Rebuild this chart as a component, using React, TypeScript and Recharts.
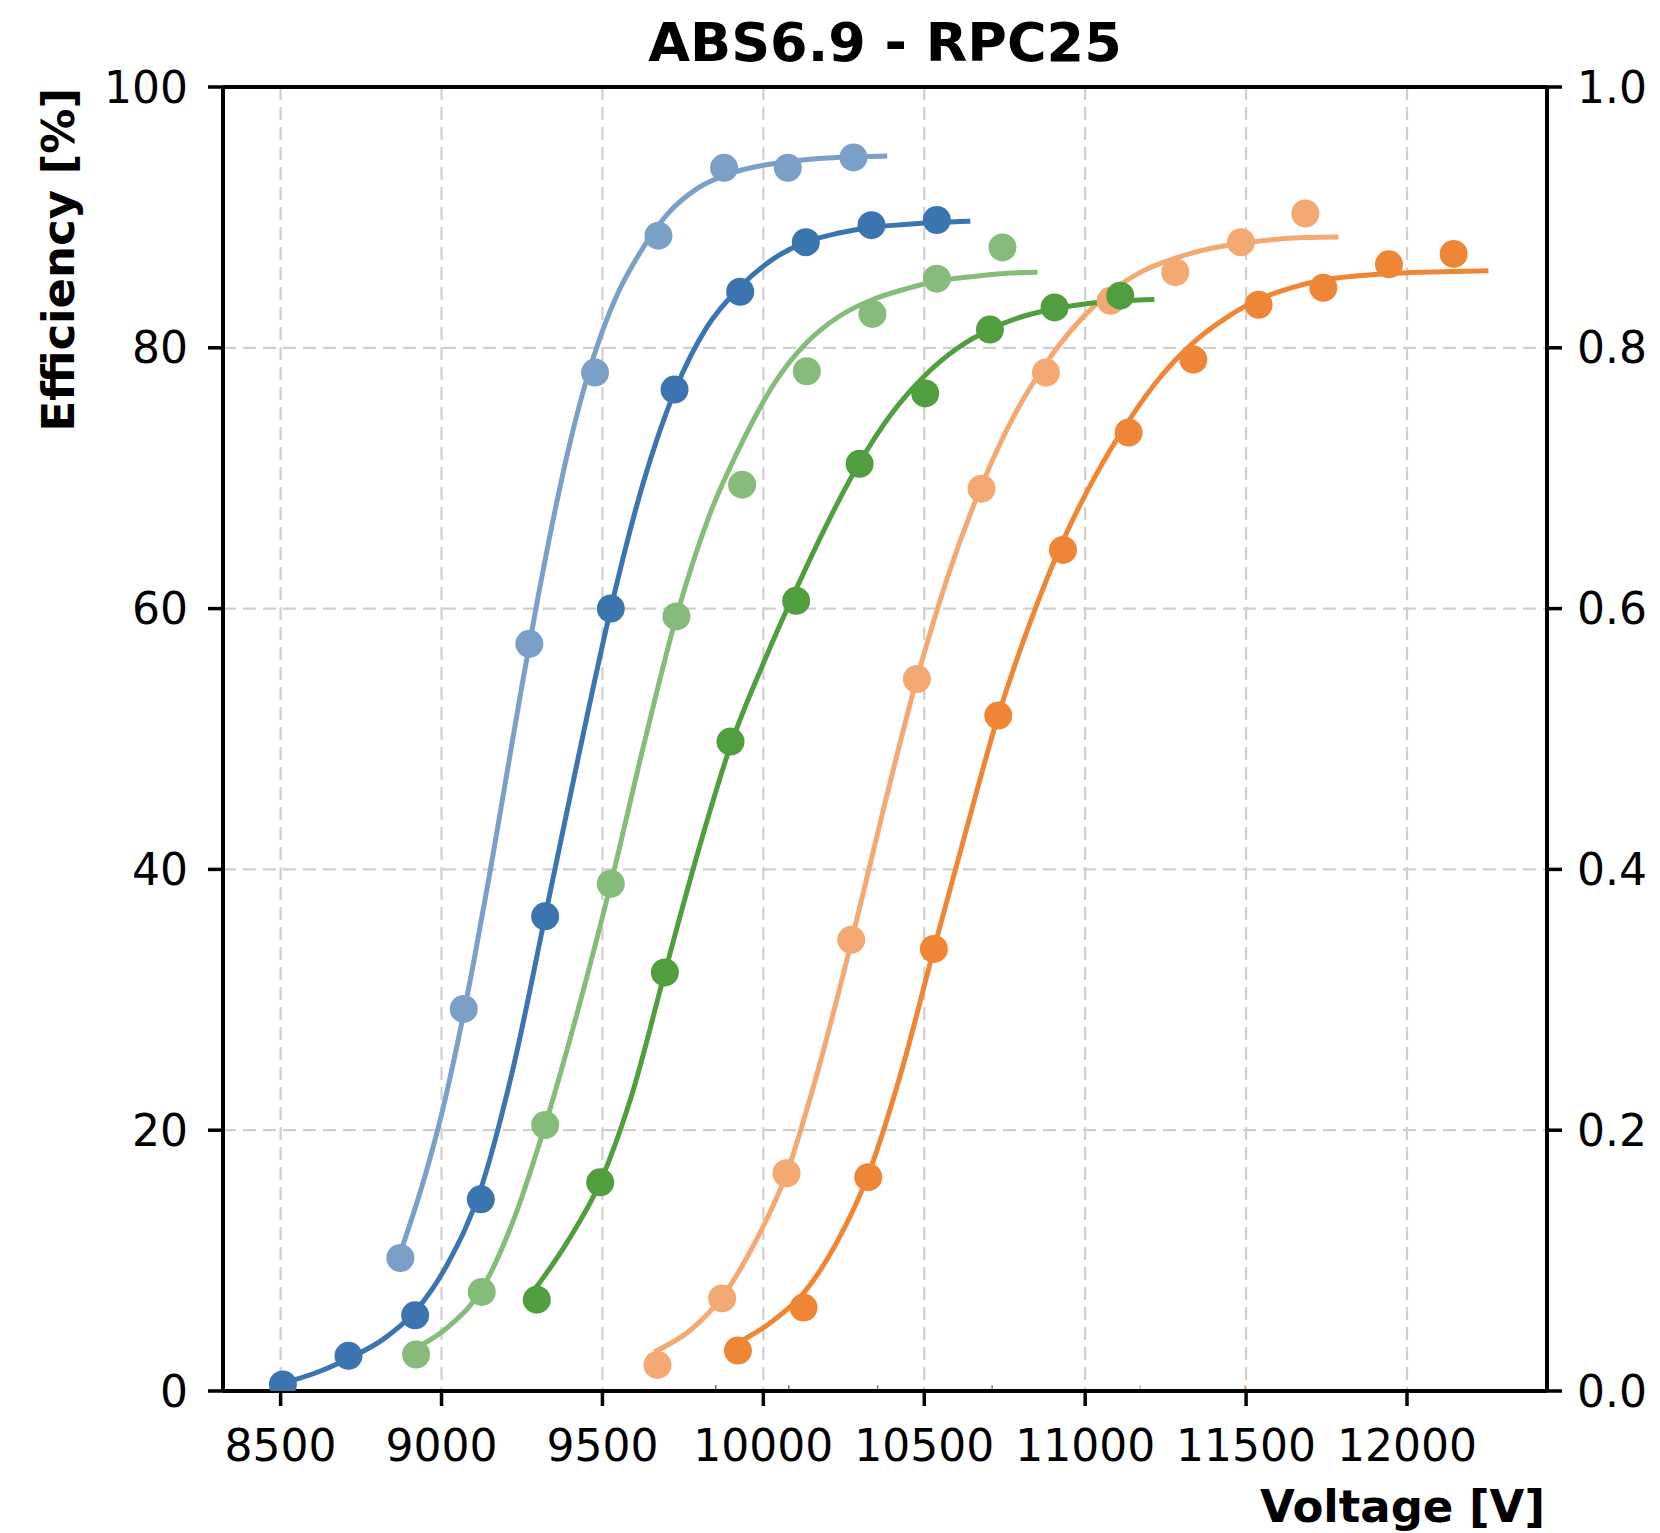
import React from "react";
import {
  ComposedChart,
  Line,
  Scatter,
  XAxis,
  YAxis,
  CartesianGrid,
  ReferenceLine,
} from "recharts";

// measured points (voltage [V], efficiency [%])
const lbVolt = [8872, 9069, 9273, 9477, 9674, 9878, 10076, 10280];
const lbEff = [10.2, 29.3, 57.3, 78.1, 88.6, 93.8, 93.8, 94.6];
const dbVolt = [8507, 8711, 8918, 9122, 9322, 9526, 9724, 9928, 10132, 10336, 10539];
const dbEff = [0.5, 2.7, 5.8, 14.7, 36.4, 60.0, 76.8, 84.3, 88.1, 89.4, 89.8];
const lgVolt = [8921, 9125, 9322, 9526, 9730, 9934, 10135, 10339, 10539, 10743];
const lgEff = [2.8, 7.6, 20.4, 38.9, 59.4, 69.5, 78.2, 82.6, 85.3, 87.7];
const dgVolt = [9296, 9493, 9694, 9898, 10102, 10299, 10503, 10704, 10905, 11109];
const dgEff = [7.0, 16.0, 32.1, 49.8, 60.6, 71.1, 76.5, 81.4, 83.1, 84.0];
const loVolt = [9671, 9872, 10072, 10273, 10477, 10678, 10878, 11079, 11280, 11484, 11684];
const loEff = [2.0, 7.1, 16.7, 34.6, 54.6, 69.2, 78.1, 83.6, 85.8, 88.1, 90.3];
const doVolt = [9921, 10125, 10326, 10530, 10730, 10931, 11135, 11336, 11539, 11740, 11944, 12145];
const doEff = [3.1, 6.4, 16.4, 33.9, 51.8, 64.5, 73.5, 79.1, 83.3, 84.6, 86.4, 87.2];

// fitted curves
const lbFitVolt = [8872, 8950, 9000, 9050, 9100, 9150, 9200, 9250, 9300, 9350, 9400, 9450, 9500, 9550, 9600, 9700, 9800, 9900, 10000, 10100, 10200, 10300, 10385];
const lbFitEff = [10.6, 16.6, 21.2, 26.7, 32.9, 39.7, 46.9, 54.1, 60.9, 67.2, 72.8, 77.5, 81.3, 84.3, 86.6, 90.2, 92.3, 93.4, 94.0, 94.35, 94.55, 94.65, 94.7];
const dbFitVolt = [8507, 8610, 8711, 8815, 8918, 9020, 9122, 9220, 9322, 9425, 9526, 9625, 9725, 9825, 9929, 10030, 10132, 10235, 10337, 10440, 10540, 10643];
const dbFitEff = [0.6, 1.4, 2.5, 3.9, 6.1, 9.8, 15.5, 24.5, 36.4, 48.6, 60.0, 69.5, 76.7, 81.6, 84.7, 86.8, 88.1, 88.8, 89.25, 89.45, 89.6, 89.7];
const lgFitVolt = [8921, 9020, 9125, 9225, 9322, 9425, 9526, 9630, 9730, 9830, 9935, 10035, 10135, 10235, 10340, 10440, 10540, 10645, 10750, 10852];
const lgFitEff = [3.3, 4.9, 7.8, 13.2, 20.4, 29.3, 38.9, 49.7, 59.4, 67.0, 72.8, 77.3, 80.4, 82.4, 83.7, 84.5, 85.1, 85.45, 85.7, 85.8];
const dgFitVolt = [9290, 9390, 9493, 9590, 9694, 9800, 9898, 10000, 10102, 10200, 10299, 10400, 10503, 10605, 10704, 10805, 10905, 11010, 11109, 11215];
const dgFitEff = [7.8, 11.4, 16.0, 22.6, 32.1, 41.6, 49.5, 55.8, 61.5, 66.6, 71.2, 75.0, 77.9, 80.0, 81.4, 82.4, 83.0, 83.4, 83.6, 83.7];
const loFitVolt = [9661, 9770, 9872, 9970, 10074, 10170, 10275, 10375, 10477, 10575, 10676, 10775, 10878, 10980, 11080, 11180, 11283, 11385, 11483, 11585, 11682, 11787];
const loFitEff = [3.0, 4.6, 7.2, 11.2, 16.8, 24.6, 34.6, 44.8, 54.6, 62.6, 69.3, 74.6, 78.8, 82.0, 84.3, 85.9, 86.9, 87.6, 88.0, 88.3, 88.45, 88.5];
const doFitVolt = [9914, 10020, 10125, 10226, 10326, 10430, 10530, 10630, 10730, 10830, 10931, 11030, 11135, 11235, 11336, 11438, 11539, 11640, 11740, 11840, 11944, 12045, 12145, 12253];
const doFitEff = [3.6, 5.2, 7.5, 11.3, 16.6, 24.6, 33.9, 43.0, 51.8, 59.0, 65.2, 70.1, 74.4, 77.8, 80.4, 82.3, 83.7, 84.6, 85.2, 85.5, 85.7, 85.8, 85.85, 85.9];

// small markers on the x axis
const markVolt = [9852, 10079, 10355, 10711, 11171, 11497];
const markColor = ["#3b75af", "#3b75af", "#519e3e", "#519e3e", "#f4a972", "#ef8636"];

const xTicks = [8500, 9000, 9500, 10000, 10500, 11000, 11500, 12000];
const yTicks = [0, 20, 40, 60, 80, 100];
const rightTicks = [0, 0.2, 0.4, 0.6, 0.8, 1.0];

const zip = (v: number[], e: number[]) => v.map((x, i) => ({ v: x, e: e[i] }));

// light ones first, dark ones drawn over them
const series = [
  { key: "lb", color: "#7aa0c8", pts: zip(lbVolt, lbEff), fit: zip(lbFitVolt, lbFitEff) },
  { key: "lg", color: "#86bc79", pts: zip(lgVolt, lgEff), fit: zip(lgFitVolt, lgFitEff) },
  { key: "lo", color: "#f4a972", pts: zip(loVolt, loEff), fit: zip(loFitVolt, loFitEff) },
  { key: "db", color: "#3b75af", pts: zip(dbVolt, dbEff), fit: zip(dbFitVolt, dbFitEff) },
  { key: "dg", color: "#519e3e", pts: zip(dgVolt, dgEff), fit: zip(dgFitVolt, dgFitEff) },
  { key: "do", color: "#ef8636", pts: zip(doVolt, doEff), fit: zip(doFitVolt, doFitEff) },
];

const font = "DejaVu Sans, sans-serif";
const tickStyle = { fill: "#000", fontSize: 44, fontFamily: font };
const spine = { stroke: "#000", strokeWidth: 4 };
const tickMark = { stroke: "#000", strokeWidth: 3.5 };

export default function App() {
  return (
    <div style={{ position: "absolute", left: 0, top: 0, width: 1660, height: 1533, background: "#fff" }}>
      <ComposedChart width={1660} height={1533} margin={{ top: 87, right: 0, bottom: 0, left: 0 }}>
        <CartesianGrid stroke="#cfcfcf" strokeWidth={2.2} strokeDasharray="13 7" />
        <XAxis
          dataKey="v"
          type="number"
          domain={[8321, 12435]}
          ticks={xTicks}
          allowDataOverflow
          height={142}
          tick={tickStyle}
          tickSize={15}
          tickMargin={24}
          axisLine={spine}
          tickLine={tickMark}
        />
        <YAxis
          type="number"
          domain={[0, 100]}
          ticks={yTicks}
          allowDataOverflow
          width={223}
          tick={tickStyle}
          tickSize={15}
          tickMargin={20}
          axisLine={spine}
          tickLine={tickMark}
        />
        <YAxis
          yAxisId="r"
          orientation="right"
          type="number"
          domain={[0, 1]}
          ticks={rightTicks}
          allowDataOverflow
          width={113}
          tick={tickStyle}
          tickFormatter={(t: number) => t.toFixed(1)}
          tickSize={15}
          tickMargin={15}
          axisLine={spine}
          tickLine={tickMark}
        />
        <ReferenceLine y={100} stroke="#000" strokeWidth={4} />
        {markVolt.map((m, i) => (
          <ReferenceLine
            key={`m-${i}`}
            segment={[{ x: m, y: 0 }, { x: m, y: 0.45 }]}
            stroke={markColor[i]}
            strokeWidth={1.5}
          />
        ))}
        {series.flatMap((s) => [
          <Line
            key={`${s.key}-fit`}
            data={s.fit}
            dataKey="e"
            type="monotone"
            stroke={s.color}
            strokeWidth={5}
            dot={false}
            activeDot={false}
            isAnimationActive={false}
          />,
          <Scatter
            key={`${s.key}-pts`}
            data={s.pts}
            dataKey="e"
            fill={s.color}
            shape={(p: any) => <circle cx={p.cx} cy={p.cy} r={14} fill={s.color} />}
            isAnimationActive={false}
          />,
        ])}
      </ComposedChart>
      <svg
        width={1660}
        height={1533}
        style={{ position: "absolute", left: 0, top: 0, pointerEvents: "none" }}
      >
        <text x={885} y={61} textAnchor="middle" fontSize={54} fontWeight="bold" fontFamily={font}>
          ABS6.9 - RPC25
        </text>
        <text
          x={74}
          y={88}
          textAnchor="end"
          fontSize={45}
          fontWeight="bold"
          fontFamily={font}
          transform="rotate(-90, 74, 88)"
        >
          Efficiency [%]
        </text>
        <text x={1545} y={1522} textAnchor="end" fontSize={45} fontWeight="bold" fontFamily={font}>
          Voltage [V]
        </text>
      </svg>
    </div>
  );
}
